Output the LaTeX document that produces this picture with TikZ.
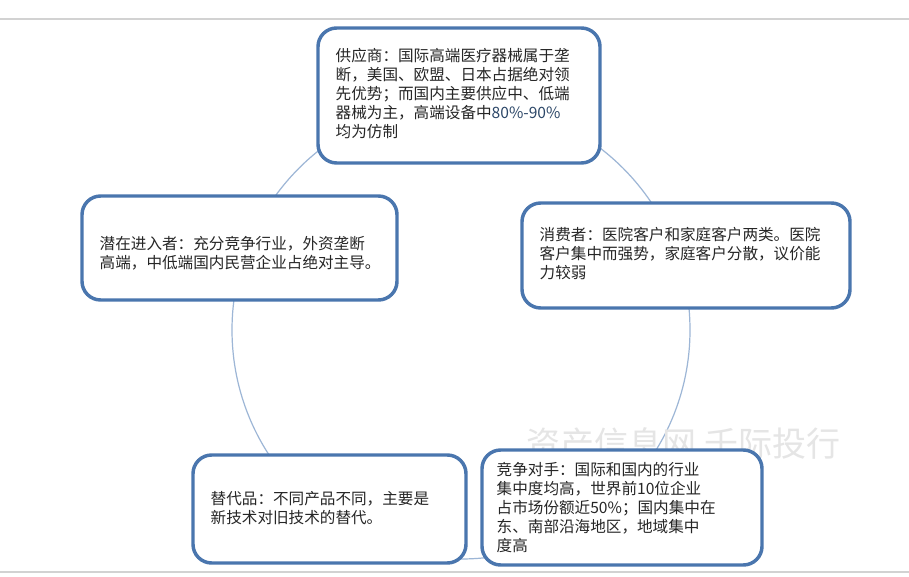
\documentclass[tikz,border=0pt]{standalone}
\usepackage{fontspec}
\setmainfont{Noto Sans CJK SC}
\begin{document}
\begin{tikzpicture}[x=0.75pt,y=-0.75pt,
  box/.style={draw=bbord,line width=2.6pt,rounded corners=14pt,fill=white,inner sep=0pt},
  txt/.style={align=left,font=\fontsize{11.7}{14.2}\selectfont,text=black!85,anchor=north west}]
\definecolor{bbord}{HTML}{4A76AE}
\definecolor{circ}{HTML}{9DB6D6}
\useasboundingbox (0,0) rectangle (909,577);
\fill[white] (0,0) rectangle (909,577);
\draw[gray!35,line width=0.8pt] (0,19) -- (909,19);
\draw[gray!35,line width=0.8pt] (0,572) -- (909,572);
\draw[circ,line width=0.9pt] (461,330) circle[radius=229];
\node[font=\fontsize{25.5}{28}\selectfont,text=gray!20,anchor=west] (wm) at (522,444) {资产信息网 千际投行};
% boxes
\draw[box] (318,28) rectangle (600,163);
\node[txt] (t1) at (331,44) {供应商：国际高端医疗器械属于垄\\断，美国、欧盟、日本占据绝对领\\先优势；而国内主要供应中、低端\\器械为主，高端设备中\textcolor{bbord!60!black}{80\%-90\%}\\均为仿制};
\draw[box] (522,203) rectangle (850,308);
\node[txt] (t2) at (535,223) {消费者：医院客户和家庭客户两类。医院\\客户集中而强势，家庭客户分散，议价能\\力较弱};
\draw[box] (82,196) rectangle (397,300);
\node[txt] (t5) at (95,232) {潜在进入者：充分竞争行业，外资垄断\\高端，中低端国内民营企业占绝对主导。};
\draw[box] (193,455) rectangle (466,563);
\node[txt] (t4) at (206,487) {替代品：不同产品不同，主要是\\新技术对旧技术的替代。};
\draw[box] (482,450) rectangle (762,565);
\node[txt] (t3) at (492,458) {竞争对手：国际和国内的行业\\集中度均高，世界前10位企业\\占市场份额近50\%；国内集中在\\东、南部沿海地区，地域集中\\度高};
\end{tikzpicture}
\end{document}
